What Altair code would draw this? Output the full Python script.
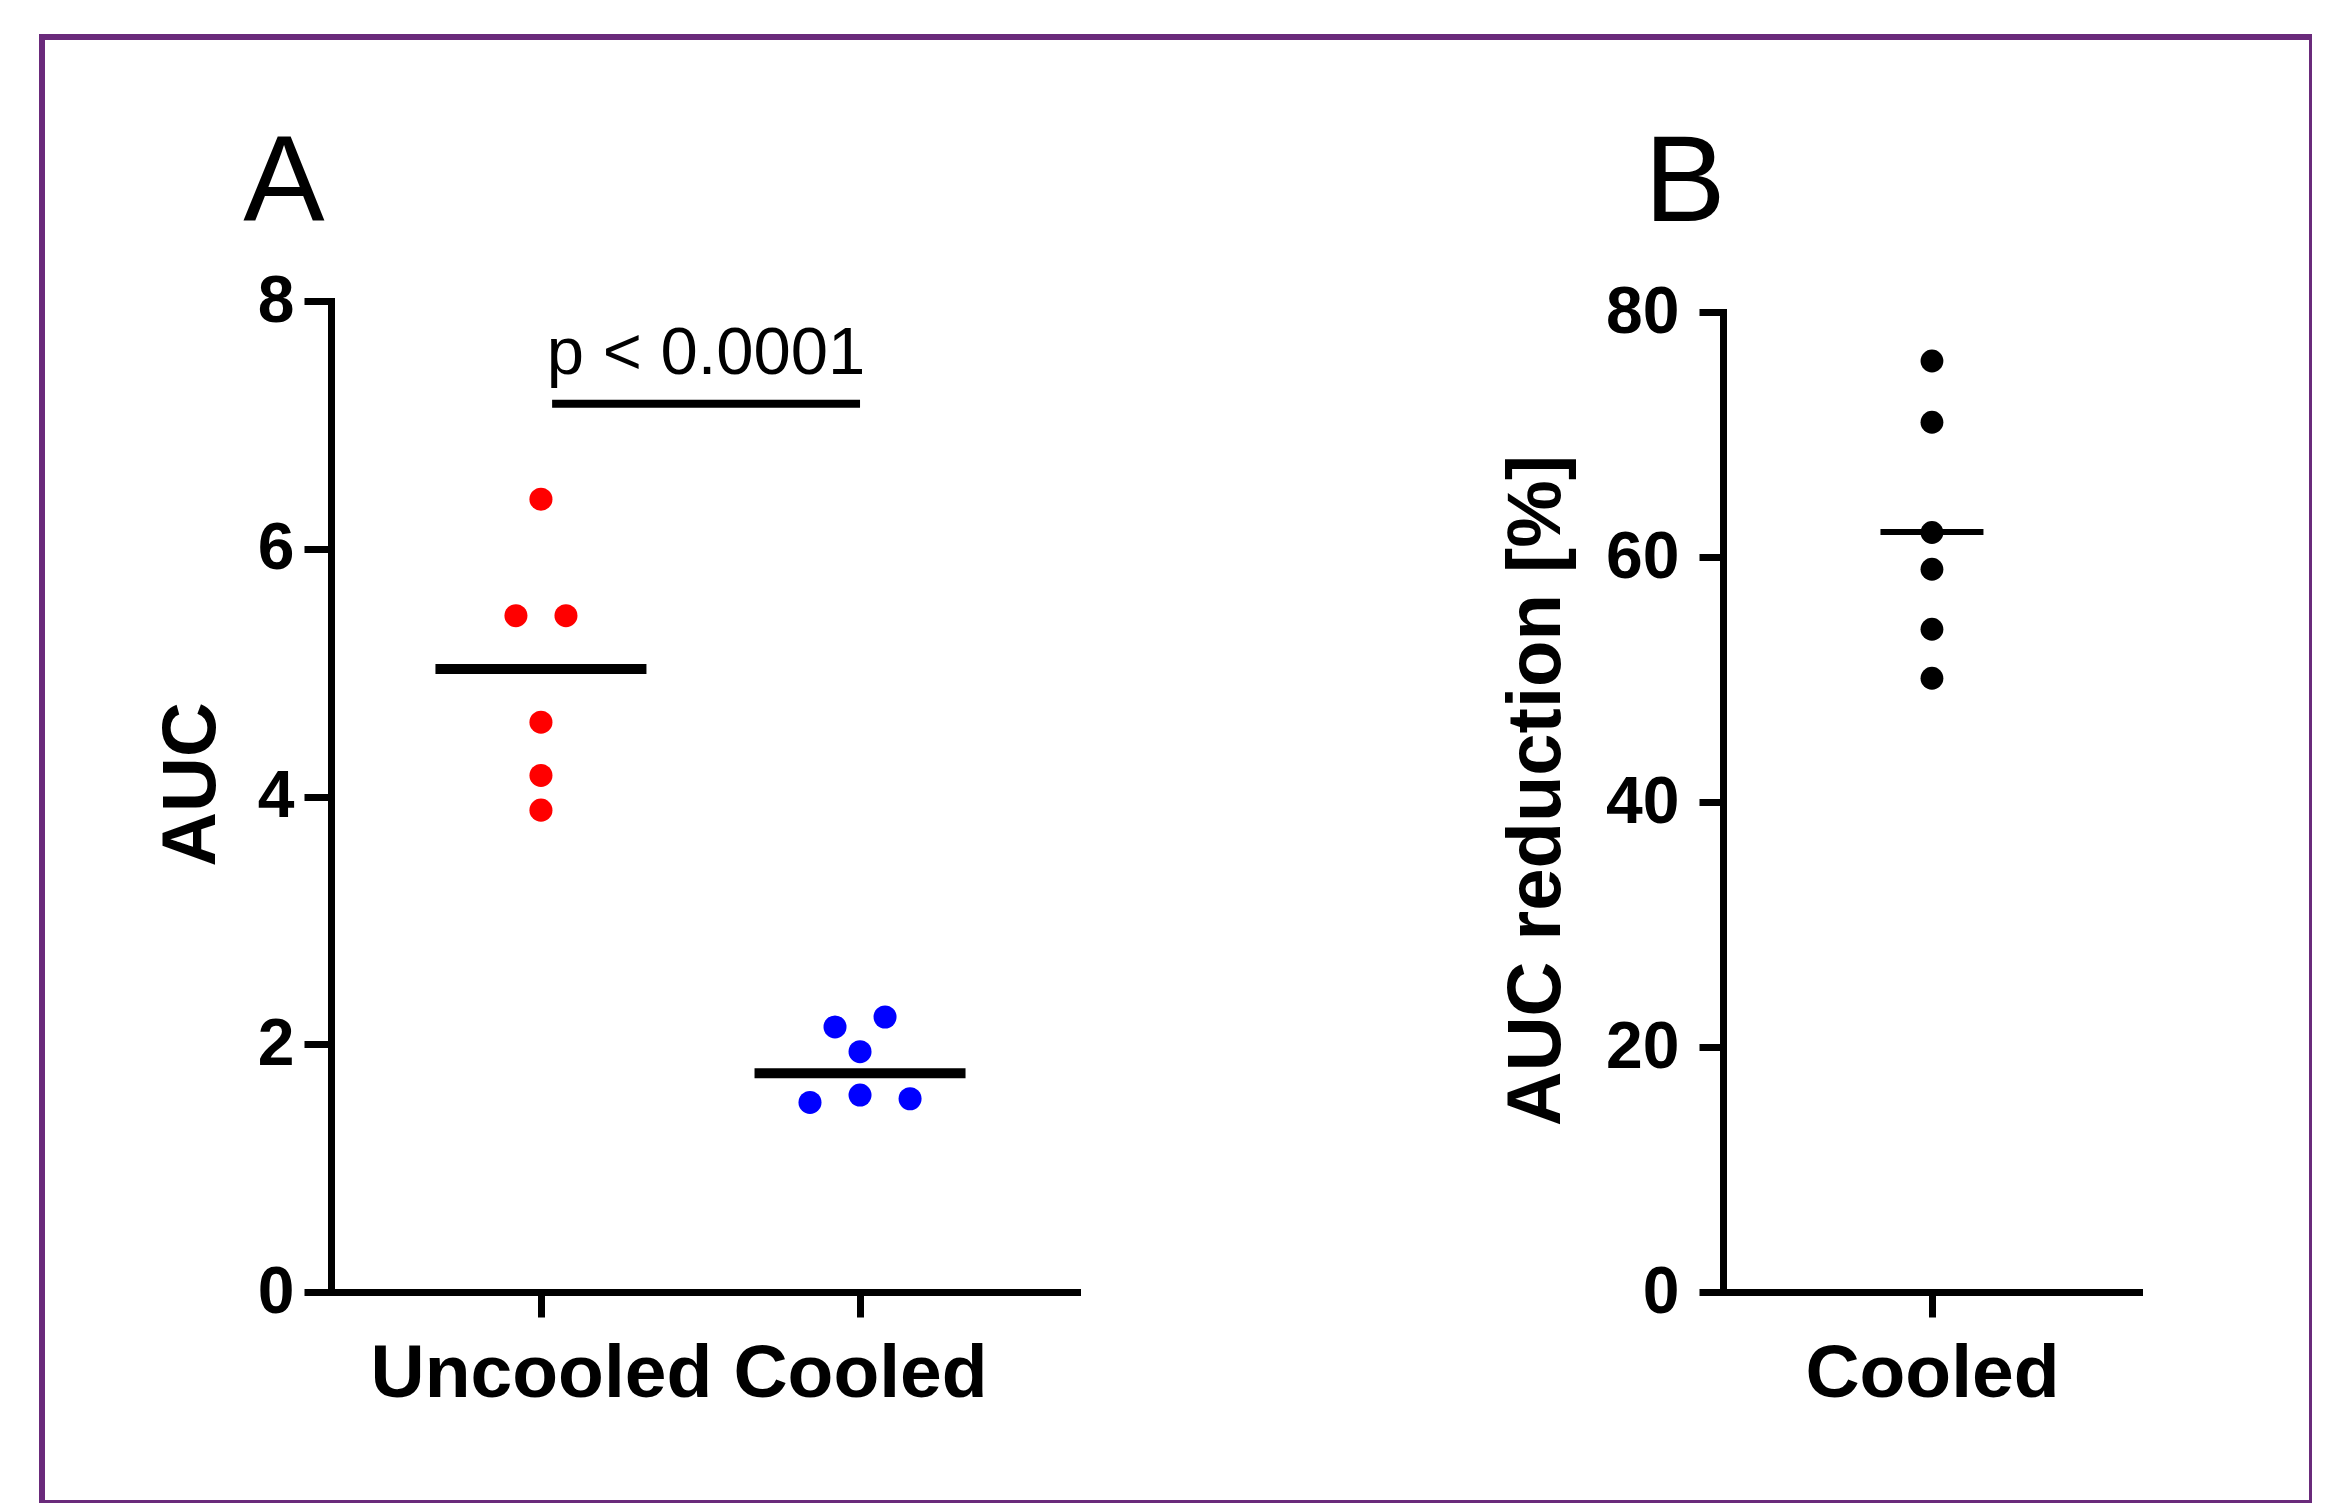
import altair as alt
import pandas as pd

# ---------------- data ----------------
groups = ["Uncooled", "Cooled"]
group_colors = ["#ff0000", "#0000ff"]

uncooled_auc = [6.40, 5.46, 5.46, 4.60, 4.17, 3.89]
uncooled_slot = [0, -1, 1, 0, 0, 0]          # horizontal scatter slot
cooled_auc = [2.14, 2.22, 1.94, 1.53, 1.59, 1.56]
cooled_slot = [-1, 1, 0, -2, 0, 2]

reduction_pct = [76.0, 71.0, 62.0, 59.0, 54.1, 50.1]
reduction_slot = [0, 0, 0, 0, 0, 0]
reduction_group = ["Cooled"]

p_label = ["p < 0.0001"]
p_bar_y = [7.17]
p_bar_from = [1.035]
p_bar_to = [2.0]
p_text_y = [7.41]

auc_ticks = [0, 2, 4, 6, 8]
red_ticks = [0, 20, 40, 60, 80]
panel_letters = ["A", "B"]

# ---------------- tables ----------------
dfA = pd.DataFrame({
    "group": [groups[0]] * len(uncooled_auc) + [groups[1]] * len(cooled_auc),
    "gi": [1] * len(uncooled_auc) + [2] * len(cooled_auc),
    "auc": uncooled_auc + cooled_auc,
    "slot": uncooled_slot + cooled_slot,
})
dfB = pd.DataFrame({
    "group": reduction_group * len(reduction_pct),
    "gi": [1] * len(reduction_pct),
    "pct": reduction_pct,
    "slot": reduction_slot,
})
dfP = pd.DataFrame({"x1": p_bar_from, "x2": p_bar_to, "y": p_bar_y,
                    "ty": p_text_y, "label": p_label})

# ---------------- layout (pixels, view-local) ----------------
W, H = 2270, 1466
JIT = 0.0784
FONT = "Liberation Sans"

xA_scale = alt.Scale(domain=[0.342, 2.680], range=[289, 1035], nice=False, zero=False)
yA_scale = alt.Scale(domain=[0, 8], range=[1255, 264], nice=False, zero=False)
xB_scale = alt.Scale(domain=[0.345, 1.649], range=[1681, 2097], nice=False, zero=False)
yB_scale = alt.Scale(domain=[0, 80], range=[1255, 275], nice=False, zero=False)

lblA = "datum.value == 1 ? '%s' : '%s'" % (groups[0], groups[1])
lblB = "'%s'" % reduction_group[0]

xA_axis = alt.Axis(orient="bottom", offset=-(H - 1255), values=[1, 2], labelExpr=lblA,
                   tickSize=25, labelPadding=20, title=None, labelFontSize=75, labelLimit=0)
yA_axis = alt.Axis(orient="left", offset=-289, values=auc_ticks, tickSize=27,
                   labelPadding=10, title="AUC", titleX=-140, titleY=747,
                   titleAngle=-90, titleAlign="center", titleBaseline="middle")
xB_axis = alt.Axis(orient="bottom", offset=-(H - 1255), values=[1], labelExpr=lblB,
                   tickSize=25, labelPadding=20, title=None, labelFontSize=75, labelLimit=0)
yB_axis = alt.Axis(orient="left", offset=-1681, values=red_ticks, tickSize=24,
                   labelPadding=20, title="AUC reduction [%]", titleX=-187, titleY=753,
                   titleAngle=-90, titleAlign="center", titleBaseline="middle")

# ---------------- panel A ----------------
baseA = alt.Chart(dfA)
ptsA = baseA.mark_circle(size=530, opacity=1).transform_calculate(
    xj="datum.gi + datum.slot * %f" % JIT
).encode(
    x=alt.X("xj:Q", scale=xA_scale, axis=xA_axis),
    y=alt.Y("auc:Q", scale=yA_scale, axis=yA_axis),
    color=alt.Color("group:N", scale=alt.Scale(domain=groups, range=group_colors), legend=None),
)
medA = baseA.mark_tick(orient="horizontal", size=211, thickness=10, color="black", opacity=1).encode(
    x=alt.X("gi:Q", scale=xA_scale, axis=xA_axis),
    y=alt.Y("median(auc):Q", scale=yA_scale, axis=yA_axis),
)
pbar = alt.Chart(dfP).mark_rule(color="black", strokeWidth=8).encode(
    x=alt.X("x1:Q", scale=xA_scale, axis=xA_axis),
    x2="x2:Q",
    y=alt.Y("y:Q", scale=yA_scale, axis=yA_axis),
)
ptext = alt.Chart(dfP).mark_text(font=FONT, fontSize=67, color="black",
                                 align="center", baseline="alphabetic").transform_calculate(
    xm="(datum.x1 + datum.x2) / 2"
).encode(
    x=alt.X("xm:Q", scale=xA_scale, axis=xA_axis),
    y=alt.Y("ty:Q", scale=yA_scale, axis=yA_axis),
    text="label:N",
)
panelA = alt.layer(ptsA, medA, pbar, ptext)

# ---------------- panel B ----------------
baseB = alt.Chart(dfB)
ptsB = baseB.mark_circle(size=520, opacity=1, color="black").transform_calculate(
    xj="datum.gi + datum.slot * %f" % JIT
).encode(
    x=alt.X("xj:Q", scale=xB_scale, axis=xB_axis),
    y=alt.Y("pct:Q", scale=yB_scale, axis=yB_axis),
)
meanB = baseB.mark_tick(orient="horizontal", size=103, thickness=6, color="black", opacity=1).encode(
    x=alt.X("gi:Q", scale=xB_scale, axis=xB_axis),
    y=alt.Y("mean(pct):Q", scale=yB_scale, axis=yB_axis),
)
panelB = alt.layer(ptsB, meanB)

# ---------------- panel letters ----------------
one = alt.Data(values=[{}])
letA = alt.Chart(one).mark_text(text=panel_letters[0], font=FONT, fontSize=122, color="black",
                                align="center", baseline="alphabetic").encode(
    x=alt.value(242), y=alt.value(184))
letB = alt.Chart(one).mark_text(text=panel_letters[1], font=FONT, fontSize=122, color="black",
                                align="center", baseline="alphabetic").encode(
    x=alt.value(1643), y=alt.value(184))

chart = alt.layer(panelA, panelB, letA, letB).resolve_scale(
    x="independent", y="independent"
).properties(
    width=W, height=H,
    autosize=alt.AutoSizeParams(type="none"),
    padding={"left": 34, "top": 29, "right": 0, "bottom": 0},
    background="white",
).configure_view(
    stroke="#6a2a7b", strokeWidth=6
).configure_axis(
    domainColor="black", domainWidth=7, domainCap="square",
    tickColor="black", tickWidth=7,
    labelColor="black", labelFont=FONT, labelFontSize=66, labelFontWeight="bold",
    titleColor="black", titleFont=FONT, titleFontSize=76, titleFontWeight="bold",
    grid=False, labelFlush=False, labelOverlap=False,
)

chart.save("out.html", embed_options={"renderer": "svg", "actions": False})
